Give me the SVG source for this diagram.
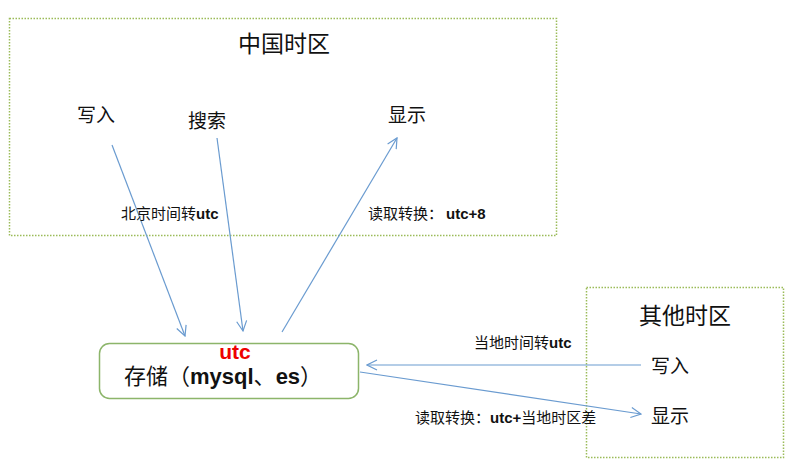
<svg xmlns="http://www.w3.org/2000/svg" width="794" height="467" viewBox="0 0 794 467">
<style>
.zone{fill:none;stroke:#9bbb59;stroke-width:1.5;stroke-dasharray:1.5 1.5}
.store{fill:#fff;stroke:#8cb56a;stroke-width:1.5}
.t{font-family:"Liberation Sans","Noto Sans CJK SC",sans-serif;fill:#111}
.big{font-size:23px}
.mid{font-size:19px}
.sm{font-size:15px}
.b{font-weight:bold}
.conn line{stroke:#6a9bd0;stroke-width:1.2;fill:none}
</style>
<defs>
<marker id="ah" viewBox="0 0 12 12" refX="11" refY="6" markerWidth="12" markerHeight="12" markerUnits="userSpaceOnUse" orient="auto">
<path d="M1,1 L11,6 L1,11" fill="none" stroke="#6a9bd0" stroke-width="1.2"/>
</marker>
</defs>
<rect width="794" height="467" fill="#fff"/>
<g id="china-zone">
<rect class="zone" x="9.5" y="18.5" width="547" height="217"/>
<text class="t big" x="284" y="52" text-anchor="middle">中国时区</text>
</g>
<g id="china-write"><text class="t mid" x="77" y="122">写入</text></g>
<g id="china-search"><text class="t mid" x="188" y="128">搜索</text></g>
<g id="china-show"><text class="t mid" x="388" y="122">显示</text></g>
<g id="other-zone">
<rect class="zone" x="586.5" y="287.5" width="197" height="170"/>
<text class="t big" x="685" y="324" text-anchor="middle">其他时区</text>
</g>
<g id="other-write"><text class="t mid" x="651" y="373">写入</text></g>
<g id="other-show"><text class="t mid" x="651" y="423">显示</text></g>
<g id="storage">
<rect class="store" x="99.5" y="343.5" width="259" height="55" rx="10"/>
<text class="t b" x="235" y="359" text-anchor="middle" style="fill:#ee0000;font-size:21px">utc</text>
<text class="t" x="124" y="384" style="font-size:22px">存储（<tspan class="b">mysql</tspan>、<tspan class="b">es</tspan>）</text>
</g>
<g class="conn" id="connectors">
<line x1="112" y1="145" x2="185" y2="336" marker-end="url(#ah)"/>
<line x1="217" y1="138" x2="243" y2="331" marker-end="url(#ah)"/>
<line x1="282" y1="332" x2="397" y2="138" marker-end="url(#ah)"/>
<line x1="641" y1="365" x2="367" y2="365" marker-end="url(#ah)"/>
<line x1="360" y1="372" x2="641" y2="414" marker-end="url(#ah)"/>
</g>
<g id="labels">
<text class="t sm" x="121" y="219">北京时间转<tspan class="b">utc</tspan></text>
<text class="t sm" x="368" y="219">读取转换：<tspan class="b" dx="3">utc+8</tspan></text>
<text class="t sm" x="474" y="348">当地时间转<tspan class="b">utc</tspan></text>
<text class="t sm" x="415" y="423">读取转换：<tspan class="b">utc+</tspan>当地时区差</text>
</g>
</svg>
